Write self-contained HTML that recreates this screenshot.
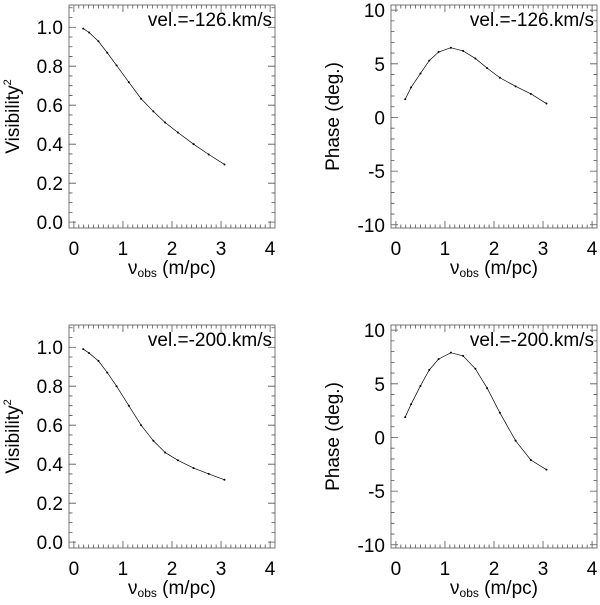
<!DOCTYPE html>
<html><head><meta charset="utf-8"><style>
body{margin:0;background:#fff}
svg text{font-family:"Liberation Sans",sans-serif;fill:#000}
</style></head><body>
<svg id="c" width="600" height="600" xmlns="http://www.w3.org/2000/svg"></svg>
<script>
const xVals=[0.19,0.31,0.50,0.68,0.87,1.12,1.37,1.62,1.86,2.12,2.44,2.75,3.07];
const vis126=[0.993,0.973,0.928,0.869,0.804,0.718,0.633,0.568,0.511,0.460,0.400,0.347,0.296];
const phase126=[1.7,2.8,4.1,5.3,6.1,6.5,6.2,5.5,4.6,3.7,2.9,2.2,1.3];
const vis200=[0.99,0.97,0.93,0.87,0.80,0.70,0.60,0.52,0.46,0.42,0.38,0.35,0.32];
const phase200=[1.9,3.1,4.8,6.3,7.3,7.9,7.6,6.4,4.6,2.3,-0.3,-2.1,-3.0];
const xTicks=[0,1,2,3,4];
const visTicks=["0.0","0.2","0.4","0.6","0.8","1.0"];
const phaseTicks=["-10","-5","0","5","10"];
const NS="http://www.w3.org/2000/svg";
const svg=document.getElementById('c');
function mk(t,a,p){const e=document.createElementNS(NS,t);for(const k in a)e.setAttribute(k,a[k]);(p||svg).appendChild(e);return e;}
function panel(name,L,T,yMin,yMax,yTickVals,yLabels,yMinor,yData,title,yTitle,isVis){
  const R=L+206,B=T+223,xMin=-0.1,xMax=4.1;
  const g=mk('g',{});
  
  
  const sx=v=>L+(v-xMin)/(xMax-xMin)*(R-L);
  const sy=v=>B-(v-yMin)/(yMax-yMin)*(B-T);
  const fr=mk('rect',{x:L,y:T,width:R-L,height:B-T,fill:'none',stroke:'#555','stroke-width':0.8},g);
  
  
  let d='';
  for(let i=0;i<=40;i++){const v=i*0.1,x=sx(v),len=(i%10==0)?7:3.5;d+=`M${x},${B}v${-len}M${x},${T}v${len}`;}
  for(let k=Math.ceil(yMin/yMinor);k*yMinor<=yMax+1e-9;k++){const v=k*yMinor;const y=sy(v);const major=yTickVals.some(t=>Math.abs(t-v)<1e-6);const len=major?7:3.5;d+=`M${L},${y}h${len}M${R},${y}h${-len}`;}
  const tk=mk('path',{d:d,stroke:'#555','stroke-width':0.8,fill:'none'},g);
  
  
  xTicks.forEach(v=>{const t=mk('text',{x:sx(v),y:B+27,'font-size':19,'text-anchor':'middle'},g);t.textContent=v;
    
    });
  yTickVals.forEach((v,i)=>{const t=mk('text',{x:L-6,y:sy(v)+7,'font-size':19,'text-anchor':'end'},g);t.textContent=yLabels[i];
    
    });
  const xt=mk('text',{x:(L+R)/2,y:B+46,'font-size':19,'text-anchor':'middle'},g);
  xt.innerHTML='ν<tspan font-size="12" dy="3">obs</tspan><tspan dy="-3"> (m/pc)</tspan>';
  
  
  const yt=mk('text',{x:0,y:0,'font-size':19,'text-anchor':'middle',transform:`translate(${L-(isVis?50:52)},${(T+B)/2}) rotate(-90)`},g);
  if(isVis){yt.innerHTML='Visibility<tspan font-size="11" dy="-8">2</tspan>';}else yt.textContent=yTitle;
  
  
  const lb=mk('text',{x:R-3,y:T+21,'font-size':19,'text-anchor':'end'},g);lb.textContent=title;
  
  
  const pts=xVals.map((x,i)=>sx(x)+','+sy(yData[i])).join(' ');
  const ln=mk('polyline',{points:pts,fill:'none',stroke:'#000','stroke-width':0.7},g);
  
  
  xVals.forEach((x,i)=>{const c=mk('circle',{cx:sx(x),cy:sy(yData[i]),r:1,fill:'#000'},g);
    
    });
}
const visT=[0,0.2,0.4,0.6,0.8,1.0],phT=[-10,-5,0,5,10];
panel('visibility-126',69,5,-0.03,1.114,visT,visTicks,0.05,vis126,'vel.=-126.km/s','',true);
panel('phase-126',391,5,-10.3,10.48,phT,phaseTicks,1,phase126,'vel.=-126.km/s','Phase (deg.)',false);
panel('visibility-200',69,325,-0.03,1.114,visT,visTicks,0.05,vis200,'vel.=-200.km/s','',true);
panel('phase-200',391,325,-10.3,10.48,phT,phaseTicks,1,phase200,'vel.=-200.km/s','Phase (deg.)',false);
</script>
</body></html>
